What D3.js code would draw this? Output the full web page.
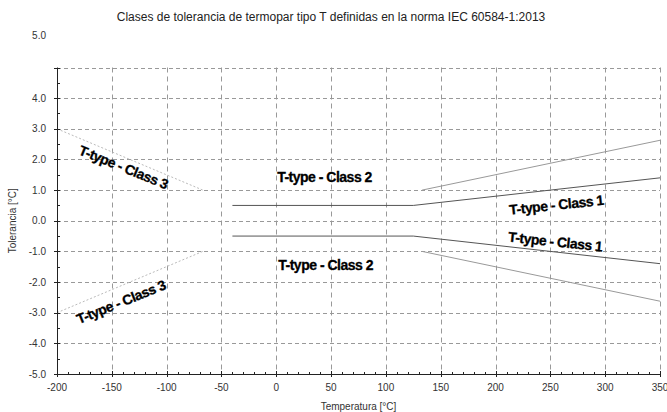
<!DOCTYPE html>
<html>
<head>
<meta charset="utf-8">
<script src="https://cdn.jsdelivr.net/npm/d3@7"></script>
<style>
  body { margin: 0; background: #fff; }
  svg { display: block; font-family: "Liberation Sans", Arial, sans-serif; }
  .lbl { font-weight: bold; font-size: 14px; fill: #000; letter-spacing: -0.5px; stroke: #000; stroke-width: 0.3px; }
</style>
</head>
<body>
<div id="chart"></div>
<script>
// tolerance curves, upper branch (lower branch is the mirror)
// flat parts of class 2 and 3 lie on the 1.0 grid line and are not drawn
const class1Temp = [-40, 125, 350];
const class1Tol = [0.5, 0.5, 1.4];
const class2Temp = [133, 350];
const class2Tol = [1.0, 2.625];
const class3Temp = [-200, -67];
const class3Tol = [3.0, 1.0];

const xTicks = [-200, -150, -100, -50, 0, 50, 100, 150, 200, 250, 300, 350];
const yTicks = [-5, -4, -3, -2, -1, 0, 1, 2, 3, 4, 5];

const width = 667;
const height = 412;

const svg = d3.select("#chart")
    .append("svg")
    .attr("width", width)
    .attr("height", height);

const x = d3.scaleLinear().domain([-200, 350]).range([57, 660]);
const y = d3.scaleLinear().domain([-5, 5]).range([374, 67.5]);

// title
svg.append("text")
    .attr("x", 331)
    .attr("y", 21)
    .attr("text-anchor", "middle")
    .style("font-size", "12px")
    .attr("fill", "#222")
    .text("Clases de tolerancia de termopar tipo T definidas en la norma IEC 60584-1:2013");

// grid
const grid = svg.append("g").attr("stroke", "#999").attr("stroke-width", 1).attr("fill", "none");
grid.selectAll(".hg")
    .data(yTicks.filter(d => d > -5))
    .enter().append("line")
    .attr("x1", x(-200)).attr("x2", x(350))
    .attr("y1", d => Math.round(y(d)) + 0.5).attr("y2", d => Math.round(y(d)) + 0.5)
    .attr("stroke-dasharray", "4,3");
grid.selectAll(".vg")
    .data(xTicks.filter(d => d > -200))
    .enter().append("line")
    .attr("y1", y(5)).attr("y2", y(-5))
    .attr("x1", d => Math.round(x(d)) + 0.5).attr("x2", d => Math.round(x(d)) + 0.5)
    .attr("stroke-dasharray", "5,4");

// curves
const line = d3.line().x(d => x(d[0])).y(d => y(d[1]));
const series = [
    { t: class3Temp, v: class3Tol, color: "#bbb", dash: "2,2" },
    { t: class2Temp, v: class2Tol, color: "#999", dash: null },
    { t: class1Temp, v: class1Tol, color: "#555", dash: null }
];
series.forEach(s => {
    [1, -1].forEach(sign => {
        svg.append("path")
            .datum(s.t.map((t, i) => [t, sign * s.v[i]]))
            .attr("d", line)
            .attr("fill", "none")
            .attr("stroke", s.color)
            .attr("stroke-width", 1)
            .attr("stroke-dasharray", s.dash);
    });
});

// axes
const axis = svg.append("g").attr("stroke", "#222").attr("stroke-width", 1);
axis.append("line").attr("x1", x(-200)).attr("x2", x(350)).attr("y1", y(-5) + 0.5).attr("y2", y(-5) + 0.5);
axis.append("line").attr("x1", x(-200) + 0.5).attr("x2", x(-200) + 0.5).attr("y1", y(5)).attr("y2", y(-5));

// minor ticks
axis.selectAll(".mx")
    .data(d3.range(-190, 350, 10).filter(d => d % 50 !== 0))
    .enter().append("line")
    .attr("x1", d => Math.round(x(d)) + 0.5).attr("x2", d => Math.round(x(d)) + 0.5)
    .attr("y1", y(-5) - 2).attr("y2", y(-5) + 1);
axis.selectAll(".my")
    .data(d3.range(-4.5, 5, 1))
    .enter().append("line")
    .attr("x1", x(-200)).attr("x2", x(-200) + 3)
    .attr("y1", d => Math.round(y(d)) + 0.5).attr("y2", d => Math.round(y(d)) + 0.5);
// major ticks
axis.selectAll(".tx")
    .data(xTicks)
    .enter().append("line")
    .attr("x1", d => Math.round(x(d)) + 0.5).attr("x2", d => Math.round(x(d)) + 0.5)
    .attr("y1", y(-5) - 3).attr("y2", y(-5) + 3);
axis.selectAll(".ty")
    .data(yTicks)
    .enter().append("line")
    .attr("x1", x(-200) - 3).attr("x2", x(-200) + 3)
    .attr("y1", d => Math.round(y(d)) + 0.5).attr("y2", d => Math.round(y(d)) + 0.5);

// tick labels
svg.selectAll(".xl")
    .data(xTicks)
    .enter().append("text")
    .attr("x", d => x(d))
    .attr("y", 390.5)
    .attr("text-anchor", "middle")
    .style("font-size", "10px")
    .attr("fill", "#333")
    .text(d => d);
svg.selectAll(".yl")
    .data(yTicks)
    .enter().append("text")
    .attr("x", 46)
    .attr("y", d => d === 5 ? y(d) - 29 : y(d) + 3.5)  // the 5.0 label sits above the frame
    .attr("text-anchor", "end")
    .style("font-size", "10px")
    .attr("fill", "#333")
    .text(d => d.toFixed(1));

// axis titles
svg.append("text")
    .attr("x", (x(-200) + x(350)) / 2)
    .attr("y", 410)
    .attr("text-anchor", "middle")
    .style("font-size", "10px")
    .attr("fill", "#333")
    .text("Temperatura [°C]");
svg.append("text")
    .attr("transform", `translate(16, ${(y(5) + y(-5)) / 2}) rotate(-90)`)
    .attr("text-anchor", "middle")
    .style("font-size", "10px")
    .attr("fill", "#333")
    .text("Tolerancia [°C]");

// curve labels: [text, temp, tol, angle]
const labels = [
    ["T-type - Class 2", 44, 1.27, 0],
    ["T-type - Class 2", 45, -1.6, 0],
    ["T-type - Class 1", 256, 0.36, -6],
    ["T-type - Class 1", 254, -0.84, 6],
    ["T-type - Class 3", -141, 1.6, 22],
    ["T-type - Class 3", -140, -2.8, -22]
];
labels.forEach(l => {
    svg.append("text")
        .attr("class", "lbl")
        .attr("text-anchor", "middle")
        .attr("transform", `translate(${x(l[1])}, ${y(l[2])}) rotate(${l[3]})`)
        .text(l[0]);
});
</script>
</body>
</html>
